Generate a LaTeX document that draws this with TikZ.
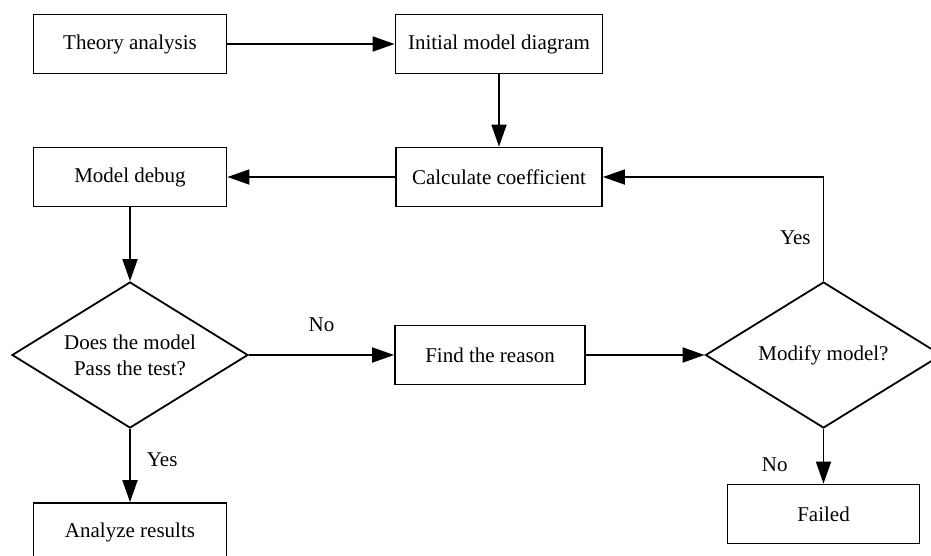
\documentclass[tikz,border=0pt]{standalone}
\usepackage{fontspec}
\setmainfont{Liberation Serif}
\usetikzlibrary{arrows.meta,shapes.geometric}

\begin{document}
\begin{tikzpicture}[x=1pt,y=-1pt,->,>={Triangle[length=22pt,width=15pt]},line width=1.8pt,
	                    font=\fontsize{21}{26}\selectfont]
	  \tikzstyle{block}=[draw=black,rectangle,minimum height=59pt,inner sep=0pt,align=center]
	  \tikzstyle{decision}=[draw=black,diamond,aspect=1.6,minimum width=236pt,
	                        minimum height=146pt,inner sep=0pt,align=center]
	  \tikzstyle{answer}=[inner sep=0pt]

	  \useasboundingbox (0,0) rectangle (931,555);

	  \node[block, minimum width=193pt]	(theory)  at (130,44)    {Theory analysis};
	  \node[block, minimum width=207pt]	(initial) at (499,44)    {Initial model diagram};
	  \node[block, minimum width=206pt]	(calc)    at (499,177)   {Calculate coefficient};
	  \node[block, minimum width=193pt]	(debug)   at (130,177)   {Model debug};
	  \node[decision]			(test)    at (130,355)   {Does the model\\Pass the test?};
	  \node[block, minimum width=190pt]	(reason)  at (490,355)   {Find the reason};
	  \node[decision]			(modify)  at (823.5,355) {Modify model?};
	  \node[block, minimum width=192pt]	(failed)  at (823.5,514) {Failed};
	  \node[block, minimum width=193pt]	(results) at (130,532.5) {Analyze results};

	  \path (theory)	edge 					(initial)
	  	(initial)	edge 					(calc)
	  	(calc)		edge 					(debug)
	  	(debug)		edge 					(test)
	  	(test)		edge node[answer, above=22pt]		{No} (reason)
	  			edge node[answer, right=16pt, pos=0.42]	{Yes} (results)
	  	(reason)	edge 					(modify)
	  	(modify)	edge node[answer, left=35pt, pos=0.66]	{No} (failed);
	  \draw (modify) |- node[answer, left=12pt, pos=0.21] {Yes} (calc);
	\end{tikzpicture}
\end{document}
